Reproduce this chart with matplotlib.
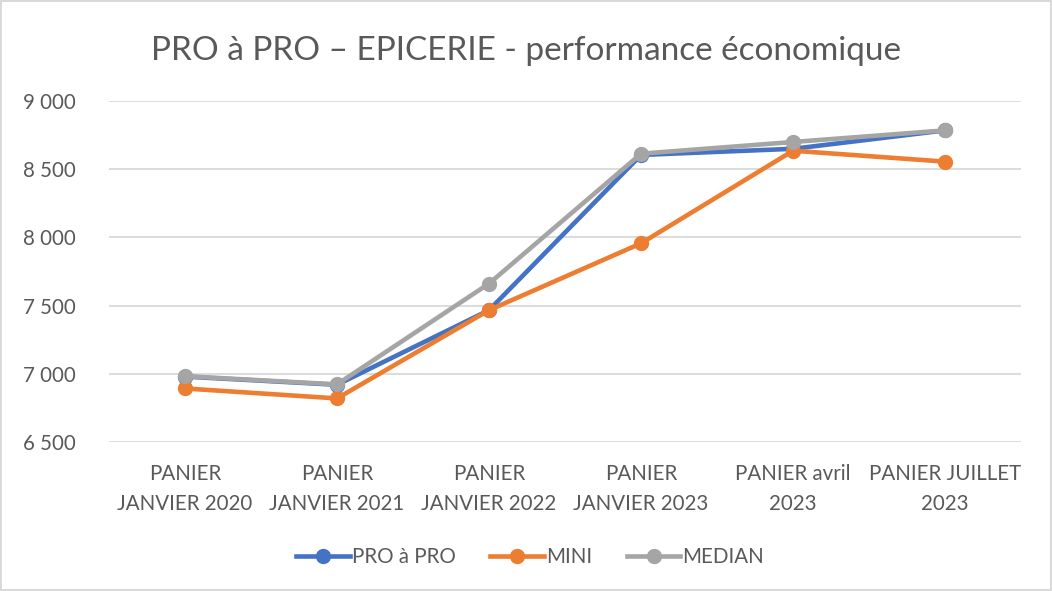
import matplotlib
matplotlib.use("Agg")
import matplotlib.pyplot as plt
from matplotlib.lines import Line2D

categories = ["PANIER\nJANVIER 2020", "PANIER\nJANVIER 2021", "PANIER\nJANVIER 2022",
              "PANIER\nJANVIER 2023", "PANIER avril\n2023", "PANIER JUILLET\n2023"]
pro_a_pro = [6980, 6920, 7467, 8605, 8650, 8785]
mini = [6893, 6820, 7467, 7957, 8636, 8556]
median = [6983, 6923, 7662, 8614, 8700, 8785]
yticks = [6500, 7000, 7500, 8000, 8500, 9000]

series = [("PRO à PRO", pro_a_pro, "#4472C4"),
          ("MINI", mini, "#ED7D31"),
          ("MEDIAN", median, "#A5A5A5")]

plt.rcParams['font.family'] = ['Lato', 'DejaVu Sans']
txt = '#595959'

fig = plt.figure(figsize=(10.52, 5.91), dpi=100)
fig.patch.set_edgecolor('#D9D9D9')
fig.patch.set_linewidth(1.5)
ax = fig.add_axes([0.1036, 0.252, 0.867, 0.577])

x = list(range(len(categories)))
for name, vals, col in series:
    ax.plot(x, vals, color=col, lw=3.3, marker='o', ms=10, solid_capstyle='round', label=name, zorder=3)

ax.set_xlim(-0.5, len(categories) - 0.5)
ax.set_ylim(6500, 9000)
ax.set_yticks(yticks)
ax.set_yticklabels([f"{v:,}".replace(",", " ") for v in yticks])
ax.set_xticks(x)
ax.set_xticklabels(categories, linespacing=1.6)
ax.tick_params(axis='both', length=0, labelsize=14.8, labelcolor=txt)
ax.tick_params(axis='y', pad=24)
ax.tick_params(axis='x', pad=16)
ax.grid(axis='y', color='#D9D9D9', lw=1.3, zorder=0)
for s in ax.spines.values():
    s.set_visible(False)

fig.text(0.5, 0.914, "PRO à PRO – EPICERIE - performance économique", ha='center', va='center',
         fontsize=24, color=txt)

handles = [Line2D([0], [0], color=c, lw=3.3, marker='o', ms=10) for _, _, c in series]
fig.legend(handles, [n for n, _, _ in series], loc='center', bbox_to_anchor=(0.504, 0.057), ncol=3,
           frameon=False, fontsize=14.8, labelcolor=txt, handlelength=2.6, handletextpad=0.1,
           columnspacing=1.7)

fig.savefig("out.png", dpi=100)
